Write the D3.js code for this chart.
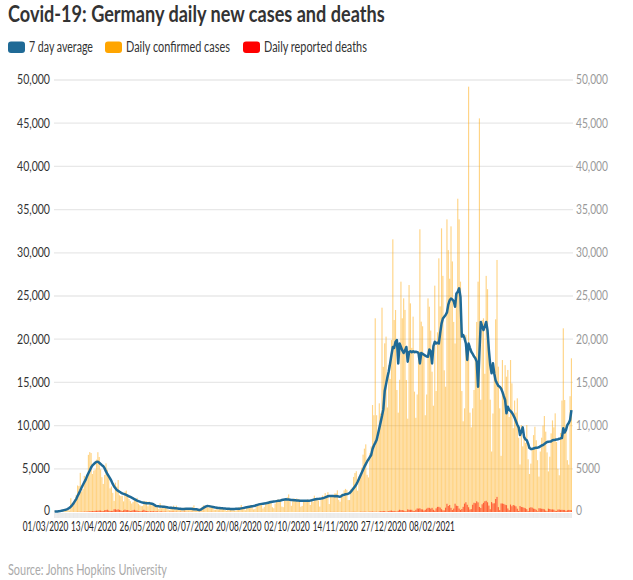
<!DOCTYPE html>
<html><head><meta charset="utf-8">
<script src="https://cdn.jsdelivr.net/npm/d3@7"></script>
<style>body{margin:0;background:#fff} svg{display:block}</style>
</head><body>
<svg id="chart" width="633" height="580"></svg>
<script>
// ---------------- DATA ----------------
const startDate = "2020-03-01";   // first category (daily)

// Daily confirmed cases, one row per week (Sun..Sat)
const cases = [
  51,29,37,66,220,188,129,
  241,136,281,451,170,1597,910,
  1210,1477,1985,3070,2993,4528,2365,
  2660,4183,3930,4337,6615,6933,6824,
  4400,4790,4923,6064,6922,6365,4933,
  4031,3251,4289,5633,4885,3990,2737,
  2946,2218,1287,3394,2945,3699,1945,
  1842,1881,1226,2357,2481,1870,1514,
  1257,988,1154,1627,1470,1639,945,
  793,679,685,1284,1209,1251,667,
  1210,933,798,933,913,620,583,
  342,1018,432,797,460,638,431,
  289,213,640,362,741,432,741,
  298,286,242,213,342,507,442,
  301,214,350,318,555,770,348,
  247,192,378,345,580,770,601,
  687,537,503,587,630,477,256,
  262,498,262,466,503,509,422,
  239,126,400,442,442,378,248,
  159,159,408,534,583,815,542,
  347,202,454,570,569,815,781,
  305,340,633,684,902,870,955,
  400,600,1000,900,1200,1300,1250,
  555,436,966,1226,1445,1449,1415,
  625,561,1390,1510,1707,2034,1427,
  711,1278,1576,1507,1571,1479,1479,
  610,704,1218,1256,1311,1453,1378,
  814,1499,1176,1892,1484,1630,1345,
  627,1407,1901,1769,2194,1916,2297,
  922,1821,1769,1769,2143,2153,2507,
  1411,1192,2089,1798,2503,2673,2563,
  1382,1382,2639,2828,4058,4516,4721,
  2467,4122,4122,5132,6638,7334,7830,
  4300,4000,6800,7600,12380,11200,22420,
  11200,8700,12580,11400,23650,16800,19520,
  20300,12100,17000,15400,19900,31560,22220,
  23380,14120,11500,15300,26660,22420,24730,
  23390,15280,10800,26270,24150,19000,22610,
  13930,10900,13600,18600,32720,22030,21500,
  18370,11200,13600,24730,23760,21000,16240,
  12300,26200,14000,20800,29360,23800,32830,
  27330,16400,14500,33870,30310,27000,33060,
  29000,22000,19500,25000,36260,33870,26660,
  14000,10500,12000,20500,18000,49230,11500,
  9800,12000,14120,18000,22000,26660,45560,
  13000,22220,22420,16000,27330,25790,18600,
  13000,7000,11400,15900,22300,29170,16820,
  12000,6500,17590,13500,17000,15660,16440,
  11000,17590,14890,9700,12900,11500,13160,
  8600,5500,10070,7600,8900,8000,10070,
  6100,4400,5600,7400,8900,9870,8300,
  6000,4100,7000,8600,10000,11110,9300,
  6900,4700,6400,9100,10600,9800,11420,
  8100,5000,4250,9150,12900,21260,12960,
  10000,6000,5480,13400,17790
];

// Daily reported deaths, one row per week (Sun..Sat)
const deaths = [
  0,0,0,0,0,0,0,
  0,2,0,1,0,4,1,
  4,5,8,15,16,24,22,
  28,47,30,66,50,90,100,
  108,103,130,150,140,168,169,
  127,113,206,233,266,171,126,
  128,129,312,315,248,299,242,
  184,110,194,281,215,227,179,
  117,150,202,260,173,156,94,
  99,90,165,260,147,118,112,
  43,101,87,101,51,89,77,
  21,83,67,42,41,39,27,
  11,31,45,47,39,26,33,
  11,12,32,20,26,37,25,
  9,9,12,27,10,12,14,
  3,6,17,10,14,9,7,
  1,3,11,13,14,12,4,
  3,4,13,7,12,8,7,
  0,4,12,5,11,6,6,
  1,1,6,4,4,2,8,
  2,1,5,3,2,5,4,
  0,4,4,9,6,8,7,
  2,1,6,5,6,6,7,
  1,0,7,5,4,10,7,
  2,0,4,8,9,4,3,
  1,2,8,3,5,10,4,
  2,6,5,5,6,8,4,
  0,5,12,7,8,12,6,
  1,3,13,8,7,11,6,
  2,12,12,13,9,8,10,
  4,3,18,15,17,11,8,
  3,8,13,18,16,25,11,
  3,6,32,25,33,24,33,
  8,15,42,39,49,30,27,
  29,10,60,85,89,101,103,
  35,49,113,149,166,118,130,
  63,63,154,261,215,218,178,
  107,62,305,251,260,254,138,
  90,255,410,389,426,314,300,
  158,255,388,487,479,390,483,
  255,147,423,590,598,516,321,
  188,188,500,952,698,813,483,
  226,395,962,731,698,402,240,
  345,600,970,1129,834,553,290,
  330,840,1070,1019,1240,1113,580,
  465,891,1060,1244,1300,1124,742,
  319,1148,989,1010,1500,1750,563,
  220,987,982,941,839,794,409,
  211,861,664,812,748,651,380,
  127,699,577,556,487,427,328,
  109,484,543,508,392,358,260,
  71,432,416,379,362,313,157,
  92,385,350,289,298,273,139,
  108,280,287,247,253,239,239,
  103,204,244,227,207
];

// 7 day average of cases, 10 per row
const avg7 = [
  50,60,70,90,110,140,180,220,260,310,
  380,470,620,800,1000,1250,1500,1850,2160,2480,
  2850,3150,3450,3750,4150,4480,4800,5150,5400,5550,
  5700,5800,5830,5700,5560,5420,5300,5050,4700,4400,
  4150,3900,3600,3250,2950,2750,2550,2450,2350,2250,
  2160,2100,2050,1980,1900,1820,1740,1660,1580,1480,
  1400,1310,1260,1200,1140,1100,1060,1030,1000,1000,
  1000,990,950,900,800,700,680,660,650,630,
  620,600,580,550,520,500,490,470,450,430,
  420,400,380,370,360,350,360,370,380,390,
  390,370,350,330,320,310,270,230,280,380,
  480,580,650,690,680,650,620,590,550,510,
  490,470,450,430,420,410,400,390,380,370,
  360,350,350,360,370,380,390,390,420,450,
  480,510,540,570,600,630,660,690,730,780,
  830,880,910,940,960,980,1000,1040,1080,1120,
  1160,1190,1210,1230,1260,1290,1310,1340,1380,1420,
  1450,1470,1460,1440,1420,1400,1390,1370,1350,1330,
  1320,1310,1300,1310,1310,1300,1290,1300,1310,1330,
  1360,1400,1440,1470,1500,1520,1540,1560,1590,1640,
  1700,1760,1820,1850,1860,1850,1840,1830,1850,1820,
  1790,1770,1850,1960,2000,2050,2080,2120,2180,2350,
  2550,2750,2950,3200,3500,3850,4200,4550,4900,5250,
  5550,5850,6100,6350,6600,7300,7700,8000,8330,9000,
  9700,10400,11100,11900,14000,14800,15600,16300,17200,18200,
  19100,19000,19700,19900,17200,19500,19100,18700,18400,18700,
  19100,17400,18500,18600,18500,18600,18500,18550,18500,18400,
  17200,18400,18300,18200,18100,18000,17980,18800,18600,17200,
  19200,19700,19500,19600,19500,20700,21800,22400,22600,22800,
  23100,24000,24500,24700,24600,24400,23760,25300,25500,25890,
  24900,20300,20490,20100,19500,17600,19500,19000,18550,18300,
  18000,17800,17400,14500,18400,22000,21500,21060,21500,22000,
  21000,18750,17000,16050,17210,16000,15200,14890,14600,14500,
  14300,13900,13400,12960,11420,12190,11800,11700,11500,11230,
  10900,10500,10100,9800,8910,9300,9800,8700,8400,8300,
  7900,7400,7300,7300,7350,7400,7450,7450,7500,7600,
  7700,7750,7870,8000,8100,8140,8150,8170,8300,8330,
  8360,8400,8430,8470,8530,8560,9690,9200,9500,10070,
  10300,10650,11800
];

const yTicks = [0,5000,10000,15000,20000,25000,30000,35000,40000,45000,50000];
const leftTickLabels  = ["0","5,000","10,000","15,000","20,000","25,000","30,000","35,000","40,000","45,000","50,000"];
const rightTickLabels = ["0","5000","10,000","15,000","20,000","25,000","30,000","35,000","40,000","45,000","50,000"];
const xTickLabels = ["01/03/2020","13/04/2020","26/05/2020","08/07/2020","20/08/2020","02/10/2020","14/11/2020","27/12/2020","08/02/2021"];
const legendLabels = ["7 day average","Daily confirmed cases","Daily reported deaths"];
const titleText = "Covid-19: Germany daily new cases and deaths";
const sourceText = "Source: Johns Hopkins University";

// ---------------- DRAW ----------------
const FONT = "Lato, 'Source Sans Pro', sans-serif";
const COL_AVG = "#1f6a96", COL_CASES = "#ffa500", COL_DEATHS = "#ff1a00";
const svg = d3.select("#chart");
const M = {left:54, right:572, top:80, bottom:512};

const parse = d3.utcParse("%Y-%m-%d");
const t0 = parse(startDate);
const dates = d3.utcDay.range(t0, d3.utcDay.offset(t0, cases.length));

const x = d3.scaleBand().domain(dates).range([M.left, M.right]).paddingInner(0.15).paddingOuter(0);
const y = d3.scaleLinear().domain([0,50000]).range([M.bottom, M.top]);

// squeeze a text horizontally (about its anchor point) to a target width
function squeeze(sel, target){
  sel.each(function(){
    const n = this, w = n.getComputedTextLength();
    const tw = typeof target === "function" ? target.apply(n, arguments) : target;
    if (!w || !tw) return;
    const sx = Math.min(1.15, tw / w);
    const ax = +n.getAttribute("x"), ay = +n.getAttribute("y");
    n.setAttribute("transform", `translate(${ax},${ay}) scale(${sx},1) translate(${-ax},${-ay})`);
  });
  return sel;
}

// title
squeeze(svg.append("text").attr("x",8).attr("y",22).attr("font-family",FONT).attr("font-weight",700)
  .attr("font-size",23).attr("fill","#333").text(titleText), 377);

// legend
const legendX = [8,105,243], legendTextW = [64,104,103];
const legendCols = [COL_AVG, COL_CASES, "#ff0000"];
legendLabels.forEach((l,i)=>{
  svg.append("rect").attr("x",legendX[i]).attr("y",41.5).attr("width",17).attr("height",11.5).attr("rx",3)
    .attr("fill",legendCols[i]);
  squeeze(svg.append("text").attr("x",legendX[i]+21).attr("y",52.5).attr("font-family",FONT)
    .attr("font-size",15).attr("fill","#333").text(l), legendTextW[i]);
});

// gridlines
svg.append("g").selectAll("line").data(yTicks.filter(d=>d>0)).join("line")
  .attr("x1",M.left).attr("x2",573).attr("y1",d=>y(d)).attr("y2",d=>y(d))
  .attr("stroke","#e8e8e8").attr("stroke-width",1.3);

// left axis labels
const leftW = {"0":6,"5,000":28};
squeeze(svg.append("g").selectAll("text").data(yTicks).join("text")
  .attr("x",50).attr("y",d=>y(d)+(d===0?3.5:4.5)).attr("text-anchor","end")
  .attr("font-family",FONT).attr("font-size",13).attr("fill","#333")
  .text((d,i)=>leftTickLabels[i]), function(d,i){ return leftW[leftTickLabels[i]]||33; });

// right axis labels
const rightW = {"0":6,"5000":24};
squeeze(svg.append("g").selectAll("text").data(yTicks).join("text")
  .attr("x",576).attr("y",d=>y(d)+(d===0?3.5:4.5)).attr("text-anchor","start")
  .attr("font-family",FONT).attr("font-size",13).attr("fill","#999")
  .text((d,i)=>rightTickLabels[i]), function(d,i){ return rightW[rightTickLabels[i]]||32; });

// baseline strip with daily ticks
svg.append("rect").attr("x",M.left).attr("y",513).attr("width",M.right-M.left).attr("height",5).attr("fill","#f3f3f3");
svg.append("g").selectAll("line").data(dates).join("line")
  .attr("x1",d=>x(d)+x.bandwidth()/2).attr("x2",d=>x(d)+x.bandwidth()/2)
  .attr("y1",513).attr("y2",518).attr("stroke","#e2e2e2").attr("stroke-width",0.6);

// case bars
svg.append("g").selectAll("rect").data(dates).join("rect")
  .attr("x",d=>x(d)).attr("width",x.bandwidth())
  .attr("y",(d,i)=>y(cases[i])).attr("height",(d,i)=>y(0)-y(cases[i]))
  .attr("fill",COL_CASES).attr("fill-opacity",0.48);

// death bars
svg.append("g").selectAll("rect").data(dates).join("rect")
  .attr("x",d=>x(d)).attr("width",x.bandwidth())
  .attr("y",(d,i)=>y(deaths[i])).attr("height",(d,i)=>y(0)-y(deaths[i]))
  .attr("fill",COL_DEATHS).attr("fill-opacity",0.62);

// 7-day average line
const line = d3.line().x((d,i)=>x(dates[i])+x.bandwidth()/2).y(d=>y(d));
svg.append("path").datum(avg7).attr("d",line).attr("fill","none")
  .attr("stroke",COL_AVG).attr("stroke-width",2.5).attr("stroke-linejoin","round");

// x tick labels (category labels, placed as in the original)
const xl = d3.scalePoint().domain(xTickLabels).range([45.5, 432]);
squeeze(svg.append("g").selectAll("text").data(xTickLabels).join("text")
  .attr("x",d=>xl(d)).attr("y",531).attr("text-anchor","middle")
  .attr("font-family",FONT).attr("font-size",12.5).attr("fill","#222")
  .text(d=>d), 45.5);

// source
squeeze(svg.append("text").attr("x",8).attr("y",575.5).attr("font-family",FONT).attr("font-size",15)
  .attr("fill","#aaa").text(sourceText), 159);
</script>
</body></html>
